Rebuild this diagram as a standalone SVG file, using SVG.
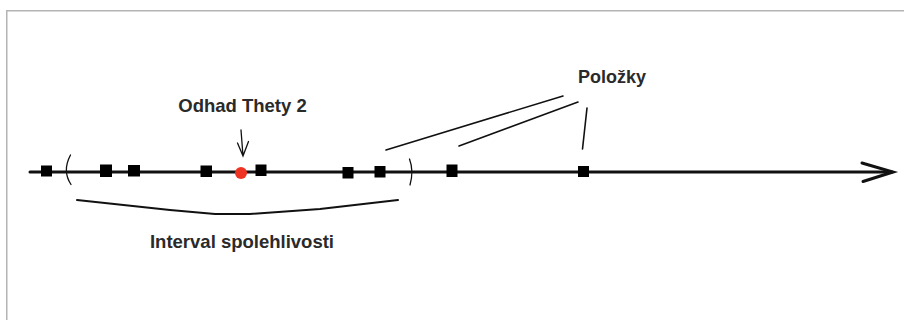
<svg xmlns="http://www.w3.org/2000/svg" width="904" height="320" viewBox="0 0 904 320">
<style>
.lbl{font-family:"Liberation Sans",Arial,sans-serif;font-weight:bold;fill:#2a2a2a}
.pt{fill:#000}
.ln{stroke:#111;fill:none;stroke-linecap:round}
</style>
<rect width="904" height="320" fill="#fff"/>
<path d="M6.75,320 V10.75 H904" stroke="#b4b4b4" stroke-width="1.5" fill="none"/>
<g id="connectors">
<line id="axis" class="ln" x1="30" y1="172" x2="892" y2="172" stroke-width="3"/>
<path class="ln" d="M862,163 L893,172 L863,181.5" stroke-width="3"/>
<path class="ln" d="M70.5,155 Q62,171 71,184.5" stroke-width="1.3"/>
<path class="ln" d="M409.5,159 Q414,171 410,185" stroke-width="1.3"/>
<path class="ln" d="M77,200 L170,210 L215,214 L250,214 L320,209 L398,200" stroke-width="2" stroke="#333"/>
<line class="ln" x1="386" y1="150" x2="563" y2="96" stroke-width="1.6"/>
<line class="ln" x1="459" y1="146" x2="578" y2="102" stroke-width="1.6"/>
<line class="ln" x1="587" y1="108" x2="582.5" y2="149" stroke-width="1.6"/>
<path class="ln" d="M241,130 L243,156 M237.5,143 L243,156 L248.5,141.5" stroke-width="1.3"/>
</g>
<g id="items">
<rect class="pt" x="41" y="165.5" width="11" height="11"/>
<rect class="pt" x="100" y="164.5" width="12" height="12.5"/>
<rect class="pt" x="128" y="165" width="12" height="11.5"/>
<rect class="pt" x="200.5" y="165.5" width="11.5" height="11.5"/>
<rect class="pt" x="255.5" y="164.5" width="11" height="11.5"/>
<rect class="pt" x="342.5" y="167" width="11" height="11.5"/>
<rect class="pt" x="374.5" y="166" width="11" height="11.5"/>
<rect class="pt" x="446.5" y="164.5" width="11" height="12.5"/>
<rect class="pt" x="578" y="166" width="11" height="11"/>
</g>
<g id="estimate">
<circle cx="241" cy="173" r="6" fill="#ee3322"/>
</g>
<g id="label-odhad"><text class="lbl" x="242.5" y="112" font-size="18.5" text-anchor="middle">Odhad Thety 2</text></g>
<g id="label-polozky"><text class="lbl" x="612" y="83" font-size="18" text-anchor="middle">Položky</text></g>
<g id="label-interval"><text class="lbl" x="242" y="248" font-size="18.5" text-anchor="middle">Interval spolehlivosti</text></g>
</svg>
